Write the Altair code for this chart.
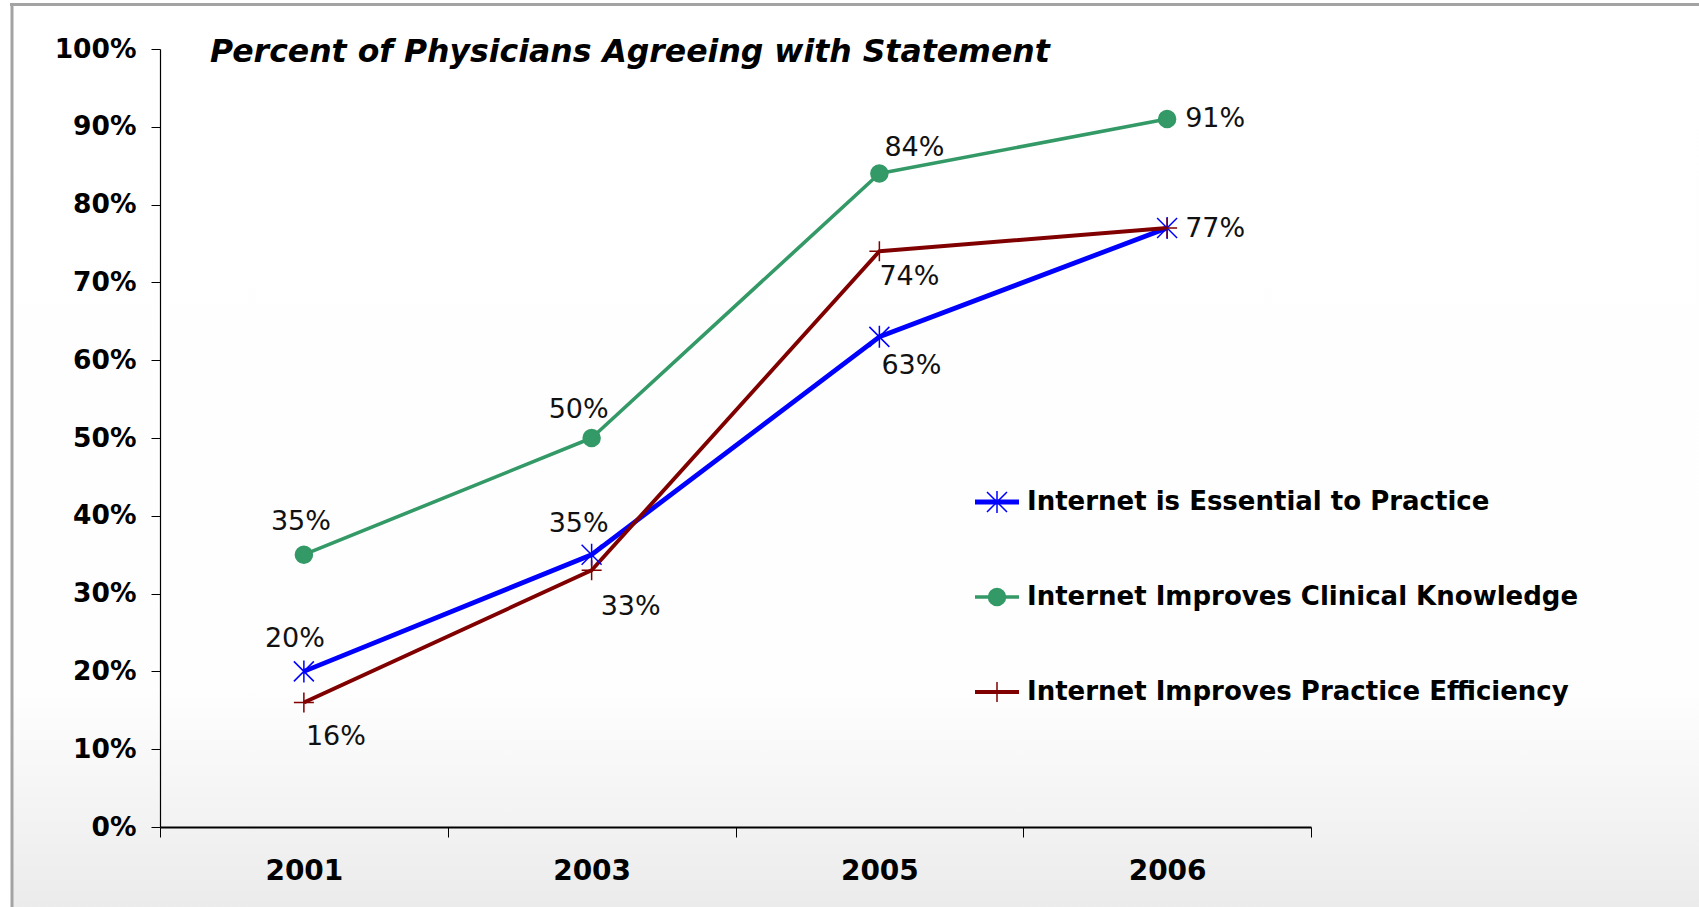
import altair as alt
import pandas as pd

# ---------------- data ----------------
years = ["2001", "2003", "2005", "2006"]
series = [
    "Internet is Essential to Practice",
    "Internet Improves Clinical Knowledge",
    "Internet Improves Practice Efficiency",
]
essential = [20, 35, 63, 77]
clinical = [35, 50, 84, 91]
efficiency = [16, 33, 74, 77]
y_ticks = [0, 10, 20, 30, 40, 50, 60, 70, 80, 90, 100]
title_text = "Percent of Physicians Agreeing with Statement"

# ---------------- styles ----------------
FONT = "DejaVu Sans"
colors = ["#0000ff", "#339966", "#800000"]
line_widths = [4.8, 3.6, 3.9]
star_path = "M-1,-1L1,1M-1,1L1,-1M0,-1.1V1.1"
cross_path = "M-1,0H1M0,-1V1"
circle_path = "M0.85,0A0.85,0.85 0 1,1 -0.85,0A0.85,0.85 0 1,1 0.85,0Z"
shapes = [star_path, circle_path, cross_path]

W, H = 1151, 778
PAD_L, PAD_T = 160, 49
TOTAL_W, TOTAL_H = 1699, 907

rows = []
for s, vals in zip(series, [essential, clinical, efficiency]):
    for yr, v in zip(years, vals):
        rows.append({"series": s, "year": yr, "value": v})
df = pd.DataFrame(rows)

x_enc = alt.X(
    "year:N",
    sort=years,
    bandPosition=0.5,
    scale=alt.Scale(type="band", domain=years, paddingInner=0, paddingOuter=0),
    axis=alt.Axis(
        title=None, tickBand="extent", labelAngle=0, labelFontSize=28,
        labelFontWeight="bold", labelFont=FONT, labelColor="#000000",
        labelPadding=20, tickSize=10, tickColor="#000000", tickWidth=1,
        domainColor="#000000", domainWidth=2, grid=False, zindex=1,
    ),
)
y_enc = alt.Y(
    "value:Q",
    scale=alt.Scale(domain=[0, 100], nice=False, zero=True),
    axis=alt.Axis(
        title=None, values=y_ticks, labelExpr="datum.value + '%'",
        labelFontSize=26.5, labelFontWeight="bold", labelFont=FONT,
        labelColor="#000000", labelPadding=15, tickSize=9,
        tickColor="#000000", tickWidth=1, domainColor="#000000",
        domainWidth=1.2, grid=False, zindex=1,
    ),
)
color_scale = alt.Scale(domain=series, range=colors)
shape_scale = alt.Scale(domain=series, range=shapes)

# ---------------- background & frame ----------------
grad = alt.LinearGradient(
    gradient="linear",
    stops=[
        alt.GradientStop(color="#ffffff", offset=0),
        alt.GradientStop(color="#fefefe", offset=0.76),
        alt.GradientStop(color="#ebebeb", offset=1),
    ],
    x1=0, x2=0, y1=0, y2=1,
)
bg = alt.Chart(pd.DataFrame({"k": [0]})).mark_rect(fill=grad).encode(
    x=alt.value(12 - PAD_L), x2=alt.value(TOTAL_W - PAD_L),
    y=alt.value(4 - PAD_T), y2=alt.value(TOTAL_H - PAD_T),
)
top_border = alt.Chart(pd.DataFrame({"k": [0]})).mark_rule(
    color="#a3a3a3", strokeWidth=3
).encode(x=alt.value(10 - PAD_L), x2=alt.value(TOTAL_W - PAD_L), y=alt.value(4.5 - PAD_T))
left_border = alt.Chart(pd.DataFrame({"k": [0]})).mark_rule(
    color="#a3a3a3", strokeWidth=3
).encode(x=alt.value(12 - PAD_L), y=alt.value(3 - PAD_T), y2=alt.value(TOTAL_H - PAD_T))

title = alt.Chart(pd.DataFrame({"t": [title_text]})).mark_text(
    align="left", baseline="alphabetic", font=FONT, fontSize=31.5,
    fontStyle="italic", fontWeight="bold", color="#000000",
).encode(x=alt.value(210 - PAD_L), y=alt.value(62 - PAD_T), text="t:N")

# ---------------- data layers ----------------
line_layers = []
for s, w in zip(series, line_widths):
    line_layers.append(
        alt.Chart(df).transform_filter(alt.datum.series == s)
        .mark_line(strokeWidth=w, strokeJoin="round")
        .encode(x=x_enc, y=y_enc,
                color=alt.Color("series:N", scale=color_scale, legend=None))
    )

points = alt.Chart(df).mark_point(filled=True, size=400, strokeWidth=1.5, opacity=1).encode(
    x=x_enc, y=y_enc,
    fill=alt.Fill("series:N", scale=color_scale, legend=None),
    stroke=alt.Stroke("series:N", scale=color_scale, legend=None),
    shape=alt.Shape("series:N", scale=shape_scale, legend=None),
)

# label placement per (series index, year): dx, dy, align
label_pos = {
    (1, "2001"): (-3, -33, "center"),
    (1, "2003"): (-13, -28, "center"),
    (1, "2005"): (35, -25, "center"),
    (1, "2006"): (18, 0, "left"),
    (0, "2001"): (-9, -32, "center"),
    (0, "2003"): (-13, -31, "center"),
    (0, "2005"): (32, 29, "center"),
    (0, "2006"): (18, 1, "left"),
    (2, "2001"): (32, 34, "center"),
    (2, "2003"): (39, 37, "center"),
    (2, "2005"): (30, 26, "center"),
}
label_layers = []
for (si, yr), (dx, dy, al) in label_pos.items():
    s = series[si]
    label_layers.append(
        alt.Chart(df)
        .transform_filter((alt.datum.series == s) & (alt.datum.year == yr))
        .transform_calculate(label="datum.value + '%'")
        .mark_text(dx=dx, dy=dy, align=al, baseline="middle", font=FONT,
                   fontSize=27, color="#111111")
        .encode(x=x_enc, y=y_enc, text="label:N")
    )

data_chart = alt.layer(*line_layers, points, *label_layers)

# ---------------- legend ----------------
leg_df = pd.DataFrame({"series": series})
leg_y = alt.Y("series:N", sort=series,
              scale=alt.Scale(type="point", domain=series, range=[453, 643], padding=0),
              axis=None)
leg_rules = []
for s, w in zip(series, line_widths):
    leg_rules.append(
        alt.Chart(leg_df).transform_filter(alt.datum.series == s)
        .mark_rule(strokeWidth=w)
        .encode(x=alt.value(975 - PAD_L), x2=alt.value(1019 - PAD_L), y=leg_y,
                color=alt.Color("series:N", scale=color_scale, legend=None))
    )
leg_pts = alt.Chart(leg_df).mark_point(filled=True, size=400, strokeWidth=1.5, opacity=1).encode(
    x=alt.value(997 - PAD_L), y=leg_y,
    fill=alt.Fill("series:N", scale=color_scale, legend=None),
    stroke=alt.Stroke("series:N", scale=color_scale, legend=None),
    shape=alt.Shape("series:N", scale=shape_scale, legend=None),
)
leg_txt = alt.Chart(leg_df).mark_text(
    align="left", baseline="middle", font=FONT, fontSize=26,
    fontWeight="bold", color="#000000",
).encode(x=alt.value(1027 - PAD_L), y=leg_y, text="series:N")
legend_chart = alt.layer(*leg_rules, leg_pts, leg_txt)

chart = (
    alt.layer(bg, top_border, left_border, title, data_chart, legend_chart)
    .resolve_scale(y="independent")
    .properties(
        width=W, height=H,
        autosize=alt.AutoSizeParams(type="none"),
        padding={"left": PAD_L, "top": PAD_T,
                 "right": TOTAL_W - PAD_L - W, "bottom": TOTAL_H - PAD_T - H},
        background="#ffffff",
    )
    .configure_view(stroke=None)
)

chart.save("out.html", embed_options={"renderer": "svg", "actions": False})
